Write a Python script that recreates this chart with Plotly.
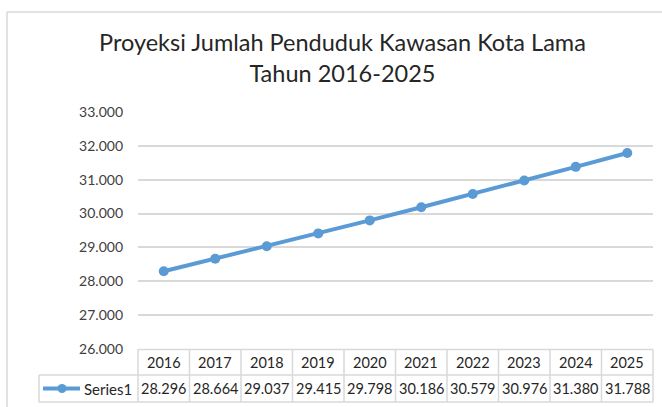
import plotly.graph_objects as go

tahun = ['2016', '2017', '2018', '2019', '2020', '2021', '2022', '2023', '2024', '2025']
penduduk = [28296, 28664, 29037, 29415, 29798, 30186, 30579, 30976, 31380, 31788]
nama_seri = 'Series1'
judul = 'Proyeksi Jumlah Penduduk Kawasan Kota Lama<br>Tahun 2016-2025'

W, H = 662, 407
L, R, T, B = 138, 9, 112, 58
biru = '#5B9BD5'
abu = '#d9d9d9'
huruf = 'Lato'


def px_x(p):
    return (p - L) / (W - L - R)


def px_y(p):
    return (H - B - p) / (H - T - B)


fig = go.Figure()
fig.add_trace(go.Scatter(
    x=tahun, y=penduduk, mode='lines+markers', name=nama_seri,
    line=dict(color=biru, width=4),
    marker=dict(color=biru, size=10),
    hoverinfo='x+y'))

garis = dict(color=abu, width=1.5)
shapes = []
# bingkai grafik (atas dan kiri saja yang terlihat)
shapes.append(dict(type='line', xref='paper', yref='paper',
                   x0=px_x(7), y0=px_y(12), x1=px_x(W), y1=px_y(12), line=garis))
shapes.append(dict(type='line', xref='paper', yref='paper',
                   x0=px_x(7), y0=px_y(12), x1=px_x(7), y1=px_y(H), line=garis))

# tabel data
n = len(tahun)
y_atas = px_y(349.5)
y_tengah = px_y(375)
y_bawah = px_y(402)
x_label = px_x(39)
shapes.append(dict(type='line', xref='paper', yref='paper', x0=0, x1=1, y0=y_atas, y1=y_atas, line=garis))
for yy in (y_tengah, y_bawah):
    shapes.append(dict(type='line', xref='paper', yref='paper', x0=x_label, x1=1, y0=yy, y1=yy, line=garis))
shapes.append(dict(type='line', xref='paper', yref='paper', x0=x_label, x1=x_label,
                   y0=y_tengah, y1=y_bawah, line=garis))
for i in range(n + 1):
    xi = i / n
    shapes.append(dict(type='line', xref='paper', yref='paper', x0=xi, x1=xi,
                       y0=y_atas, y1=y_bawah, line=garis, layer='above'))

# simbol legenda di tabel
y_leg = (y_tengah + y_bawah) / 2
shapes.append(dict(type='line', xref='paper', yref='paper', x0=px_x(43), x1=px_x(80),
                   y0=y_leg, y1=y_leg, line=dict(color=biru, width=4)))
r_px = 4.5
shapes.append(dict(type='circle', xref='paper', yref='paper',
                   x0=px_x(62 - r_px), x1=px_x(62 + r_px),
                   y0=px_y(388.5 + r_px), y1=px_y(388.5 - r_px),
                   fillcolor=biru, line=dict(color=biru, width=0)))

teks = '#262626'
annotations = [dict(text=judul, xref='paper', yref='paper', x=px_x(342), y=px_y(58),
                    showarrow=False, xanchor='center', yanchor='middle',
                    font=dict(family=huruf, size=23.5, color=teks))]
y_head = (y_atas + y_tengah) / 2
for i in range(n):
    xc = (i + 0.5) / n
    annotations.append(dict(text=tahun[i], xref='paper', yref='paper', x=xc, y=y_head,
                            xanchor='center', yanchor='middle', showarrow=False,
                            font=dict(family=huruf, size=14.5, color=teks)))
    annotations.append(dict(text=f'{penduduk[i]:,}'.replace(',', '.'), xref='paper', yref='paper',
                            x=xc, y=y_leg, xanchor='center', yanchor='middle', showarrow=False,
                            font=dict(family=huruf, size=14.5, color=teks)))
annotations.append(dict(text=nama_seri, xref='paper', yref='paper', x=px_x(82), y=y_leg,
                        xanchor='left', yanchor='middle', showarrow=False,
                        font=dict(family=huruf, size=15, color=teks)))

fig.update_layout(
    width=W, height=H,
    margin=dict(l=L, r=R, t=T, b=B),
    paper_bgcolor='white', plot_bgcolor='white',
    separators=',.',
    showlegend=False,
    font=dict(family=huruf, color='#404040'),
    xaxis=dict(type='category', range=[-0.5, n - 0.5], showticklabels=False,
               showgrid=False, zeroline=False, showline=False),
    yaxis=dict(range=[26000, 33000], dtick=1000, tickformat=',d',
               showgrid=True, gridcolor=abu, gridwidth=1.5, zeroline=False, showline=False,
               ticklabelstandoff=14, tickfont=dict(family=huruf, size=14, color='#404040')),
    shapes=shapes,
    annotations=annotations,
)

fig.write_html('out.html', config={'displayModeBar': False},
               post_script="document.body.style.margin='0';document.body.style.overflow='hidden';")
